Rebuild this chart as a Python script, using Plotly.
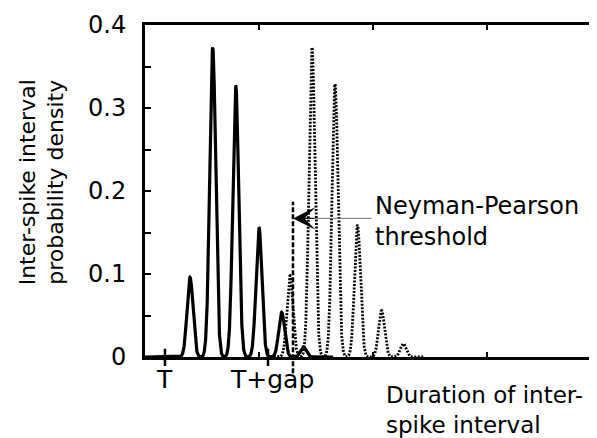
import numpy as np
import plotly.graph_objects as go

# ---- data ----
# peak centres (duration units) and heights (probability density)
solid_centers = [3.95, 5.94, 7.96, 10.0, 11.99, 13.89]
solid_heights = [0.096, 0.373, 0.327, 0.156, 0.054, 0.012]
dotted_centers = [12.72, 14.65, 16.67, 18.64, 20.75, 22.66]
dotted_heights = [0.098, 0.373, 0.329, 0.159, 0.056, 0.016]
peak_sigma = 0.26

T = 1.75
T_GAP = 10.79
threshold = 12.98
threshold_top = 0.187
arrow_y = 0.167
arrow_tail_x = 20.0

x_tick_vals = [10, 20, 30]
y_tick_vals = [0, 0.1, 0.2, 0.3, 0.4]
y_tick_text = ["0", "0.1", "0.2", "0.3", "0.4"]
x_range = [0, 39.65]
y_range = [0, 0.4]

FONT = "DejaVu Sans, Liberation Sans, Arial, sans-serif"


def peak_curve(xs, centers, heights, sigma):
    ys = np.zeros_like(xs)
    for c, h in zip(centers, heights):
        ys += h * np.exp(-0.5 * ((xs - c) / sigma) ** 2)
    return ys


xs_solid = np.linspace(0, 16.5, 1651)
xs_dot = np.linspace(11.3, 24.5, 1321)

fig = go.Figure()
fig.add_trace(go.Scatter(
    x=xs_solid, y=peak_curve(xs_solid, solid_centers, solid_heights, peak_sigma),
    mode="lines", line=dict(color="black", width=3.2), hoverinfo="skip"))
fig.add_trace(go.Scatter(
    x=xs_dot, y=peak_curve(xs_dot, dotted_centers, dotted_heights, peak_sigma),
    mode="lines", line=dict(color="black", width=2.8, dash="2px,1.5px"), hoverinfo="skip"))

shapes = []
# threshold dashed line (extends below the axis)
shapes.append(dict(type="line", xref="x", yref="paper", x0=threshold, x1=threshold,
                   y0=-0.049, y1=threshold_top / y_range[1],
                   line=dict(color="black", width=2.5, dash="5px,2px")))
# crossing ticks at T and T+gap
for xv in (T, T_GAP):
    shapes.append(dict(type="line", xref="x", yref="paper", x0=xv, x1=xv,
                       y0=-0.027, y1=0.025, line=dict(color="black", width=2.5)))

annotations = []
# arrow: thin grey shaft
annotations.append(dict(x=threshold, y=arrow_y, xref="x", yref="y", ax=arrow_tail_x, ay=arrow_y,
                        axref="x", ayref="y", text="", showarrow=True, arrowhead=0,
                        arrowwidth=1, arrowcolor="#777777"))
# arrow: black head
annotations.append(dict(x=threshold, y=arrow_y, xref="x", yref="y", ax=threshold + 2.0, ay=arrow_y,
                        axref="x", ayref="y", text="", showarrow=True, arrowhead=3,
                        arrowwidth=1.4, arrowsize=2.7, arrowcolor="black"))
# threshold text
annotations.append(dict(x=arrow_tail_x, y=0.163, xref="x", yref="y",
                        text="Neyman-Pearson<br>threshold",
                        showarrow=False, xanchor="left", yanchor="middle", align="left",
                        font=dict(family=FONT, size=24, color="black")))
# x tick labels T and T+gap
annotations.append(dict(x=T, y=-0.068, xref="x", yref="paper", text="T", showarrow=False,
                        xanchor="center", yanchor="middle",
                        font=dict(family=FONT, size=25, color="black")))
annotations.append(dict(x=T_GAP, y=-0.068, xref="x", yref="paper", text="T+gap", showarrow=False,
                        xanchor="center", yanchor="middle", xshift=4,
                        font=dict(family=FONT, size=25, color="black")))
# x-axis title (two lines)
annotations.append(dict(x=0.529, y=-0.249, xref="paper", yref="paper",
                        text="Duration of inter-<br>spike interval",
                        showarrow=False, xanchor="left", yanchor="bottom", align="left",
                        font=dict(family=FONT, size=23, color="black")))
# y-axis title (two lines)
annotations.append(dict(x=-0.228, y=0.526, xref="paper", yref="paper",
                        text="Inter-spike interval<br>probability density",
                        showarrow=False, textangle=-90, xanchor="center", yanchor="middle",
                        font=dict(family=FONT, size=22, color="black")))

fig.update_layout(
    # the page body adds an 8px margin, so the figure is 8px smaller on each axis
    width=589, height=430,
    margin=dict(l=137, r=0, t=17, b=81, pad=0),
    paper_bgcolor="white", plot_bgcolor="white",
    showlegend=False,
    shapes=shapes, annotations=annotations,
    xaxis=dict(range=x_range, showgrid=False, zeroline=False, showline=True,
               linecolor="black", linewidth=3, mirror="ticks",
               tickmode="array", tickvals=x_tick_vals, showticklabels=False,
               ticks="inside", ticklen=5, tickwidth=2, tickcolor="black"),
    yaxis=dict(range=y_range, showgrid=False, zeroline=False, showline=True,
               linecolor="black", linewidth=3,
               tickmode="array", tickvals=y_tick_vals, ticktext=y_tick_text,
               ticks="inside", ticklen=6, tickwidth=2, tickcolor="black",
               ticklabelstandoff=11,
               tickfont=dict(family=FONT, size=24, color="black"),
               minor=dict(tickmode="linear", tick0=0, dtick=0.05, ticks="inside",
                          ticklen=6, tickwidth=2, tickcolor="black")),
    yaxis2=dict(range=y_range, overlaying="y", side="right", showgrid=False,
                zeroline=False, showline=False, showticklabels=False,
                tickmode="linear", tick0=0, dtick=0.05, ticks="inside",
                ticklen=3, tickwidth=2, tickcolor="black"),
)

fig.write_html("out.html")
